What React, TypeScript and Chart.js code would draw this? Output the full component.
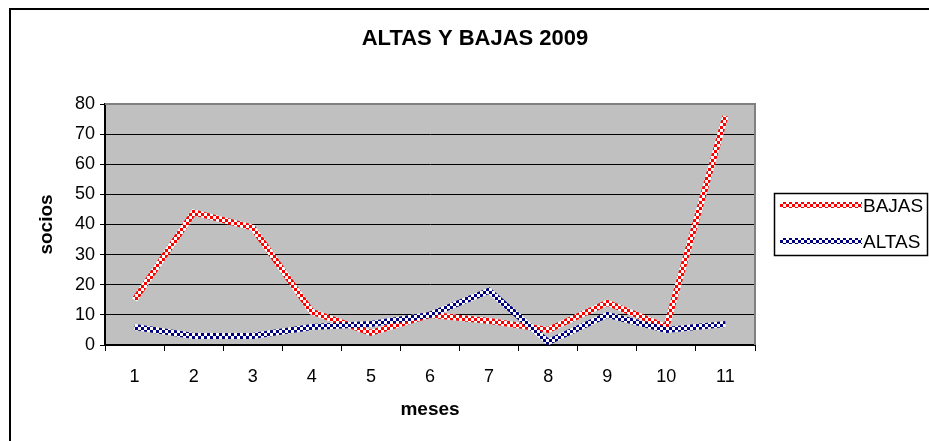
import React, { useEffect, useRef } from 'react';
import { Chart, registerables } from 'chart.js';

Chart.register(...registerables);

const months = ['1', '2', '3', '4', '5', '6', '7', '8', '9', '10', '11'];
const bajas = [15, 44, 39, 11, 4, 10, 8, 5, 14, 6, 76];
const altas = [6, 3, 3, 6, 7, 10, 18, 1, 10, 5, 7];
const seriesNames = ['BAJAS', 'ALTAS'];
const chartTitle = 'ALTAS Y BAJAS 2009';
const xTitle = 'meses';
const yTitle = 'socios';

const FONT = '"Liberation Sans", Arial, sans-serif';

function makePattern(color: string): CanvasPattern | string {
  const s = 3;
  const c = document.createElement('canvas');
  c.width = s * 2;
  c.height = s * 2;
  const g = c.getContext('2d');
  if (!g) return color;
  g.fillStyle = '#ffffff';
  g.fillRect(0, 0, s * 2, s * 2);
  g.fillStyle = color;
  g.fillRect(0, 0, s, s);
  g.fillRect(s, s, s, s);
  const p = g.createPattern(c, 'repeat');
  return p || color;
}

export default function App() {
  const ref = useRef<HTMLCanvasElement | null>(null);

  useEffect(() => {
    if (!ref.current) return;
    const redPat = makePattern('#ff0000');
    const bluePat = makePattern('#000080');

    const decor = {
      id: 'decor',
      beforeDraw(chart: any) {
        const { ctx, chartArea: a } = chart;
        ctx.save();
        ctx.fillStyle = '#ffffff';
        ctx.fillRect(0, 0, chart.width, chart.height);
        ctx.fillStyle = '#C0C0C0';
        ctx.fillRect(a.left, a.top, a.right - a.left, a.bottom - a.top);
        ctx.restore();
      },
      beforeDatasetsDraw(chart: any) {
        const { ctx, chartArea: a } = chart;
        ctx.save();
        ctx.strokeStyle = '#808080';
        ctx.lineWidth = 2;
        ctx.beginPath();
        ctx.moveTo(a.left, a.top);
        ctx.lineTo(a.right, a.top);
        ctx.lineTo(a.right, a.bottom);
        ctx.stroke();
        ctx.restore();
      },
      afterDraw(chart: any) {
        const { ctx } = chart;
        ctx.save();
        // outer frame
        ctx.strokeStyle = '#000000';
        ctx.lineWidth = 2;
        ctx.strokeRect(10, 9, 960, 480);
        // title
        ctx.fillStyle = '#000000';
        ctx.font = 'bold 22px ' + FONT;
        ctx.textAlign = 'center';
        ctx.textBaseline = 'middle';
        ctx.fillText(chartTitle, 475, 39);
        // legend
        ctx.lineWidth = 1.5;
        ctx.strokeStyle = '#000000';
        ctx.strokeRect(774.5, 193.5, 153, 62);
        const rows = [
          { name: seriesNames[0], pat: redPat, y: 205 },
          { name: seriesNames[1], pat: bluePat, y: 241 },
        ];
        ctx.font = '19px ' + FONT;
        ctx.textAlign = 'left';
        for (const r of rows) {
          ctx.strokeStyle = r.pat as any;
          ctx.lineWidth = 6;
          ctx.beginPath();
          ctx.moveTo(780, r.y);
          ctx.lineTo(862, r.y);
          ctx.stroke();
          ctx.fillStyle = '#000000';
          ctx.fillText(r.name, 863, r.y + 2);
        }
        ctx.restore();
      },
    };

    const chart = new Chart(ref.current, {
      type: 'line',
      data: {
        labels: months,
        datasets: [
          {
            label: seriesNames[0],
            data: bajas,
            borderColor: redPat as any,
            borderWidth: 6,
            pointRadius: 0,
            tension: 0,
            fill: false,
            order: 1,
          },
          {
            label: seriesNames[1],
            data: altas,
            borderColor: bluePat as any,
            borderWidth: 6,
            pointRadius: 0,
            tension: 0,
            fill: false,
            order: 0,
          },
        ],
      },
      options: {
        responsive: false,
        animation: false,
        devicePixelRatio: 1,
        layout: { padding: { left: 0, top: 104, right: 174, bottom: 0 } },
        plugins: {
          legend: { display: false },
          title: { display: false },
          tooltip: { enabled: false },
        },
        scales: {
          x: {
            type: 'category',
            offset: true,
            afterFit(scale: any) {
              scale.height = 96;
            },
            grid: {
              offset: true,
              drawOnChartArea: false,
              drawTicks: true,
              tickLength: 6,
              color: '#000000',
              lineWidth: 1,
            },
            border: { color: '#000000', width: 2 },
            ticks: {
              color: '#000000',
              font: { family: FONT, size: 18 },
              padding: 15,
              maxRotation: 0,
            },
            title: {
              display: true,
              text: xTitle,
              color: '#000000',
              font: { family: FONT, size: 19, weight: 'bold' },
              padding: { top: 0, bottom: 20 },
            },
          },
          y: {
            min: 0,
            max: 80,
            afterFit(scale: any) {
              scale.width = 105;
            },
            grid: {
              color: (c: any) => (c.tick && c.tick.value === 80 ? '#808080' : '#000000'),
              lineWidth: 1,
              tickLength: 5,
              tickColor: '#000000',
            },
            border: { color: '#000000', width: 2 },
            ticks: {
              stepSize: 10,
              color: '#000000',
              font: { family: FONT, size: 18 },
              padding: 5,
            },
            title: {
              display: true,
              text: yTitle,
              color: '#000000',
              font: { family: FONT, size: 19, weight: 'bold' },
              padding: { top: 35, bottom: 0 },
            },
          },
        },
      },
      plugins: [decor],
    });
    return () => chart.destroy();
  }, []);

  return (
    <div style={{ position: 'fixed', left: 0, top: 0, width: 929, height: 441, background: '#fff' }}>
      <canvas ref={ref} width={929} height={441} style={{ display: 'block' }} />
    </div>
  );
}
